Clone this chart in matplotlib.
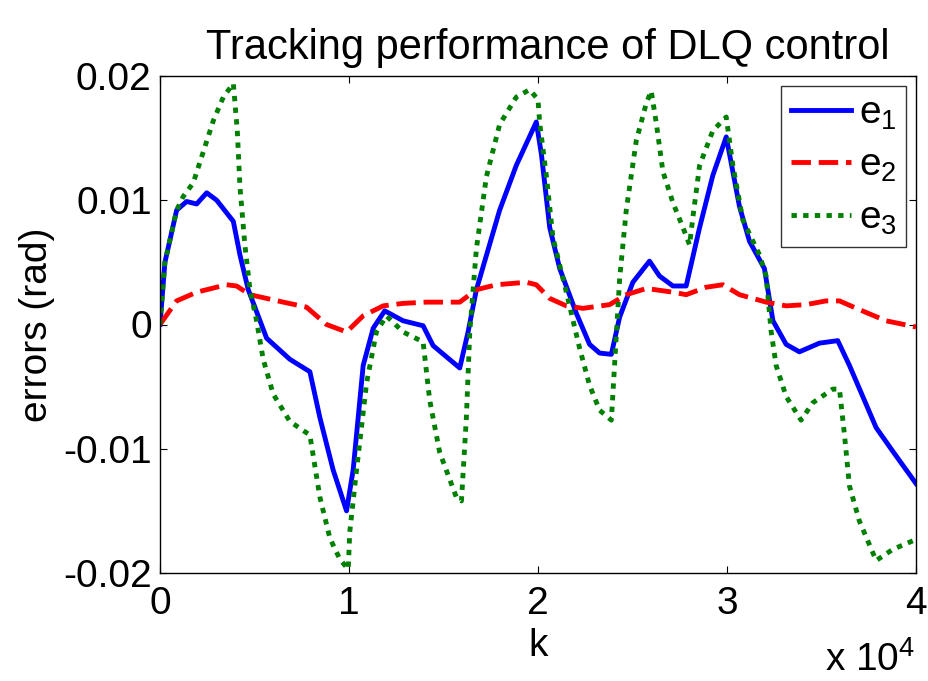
import matplotlib
matplotlib.use("Agg")
import matplotlib.pyplot as plt
import numpy as np

plt.rcParams['font.family'] = ['Liberation Sans', 'DejaVu Sans']
plt.rcParams['mathtext.fontset'] = 'custom'
plt.rcParams['mathtext.rm'] = 'Liberation Sans'
plt.rcParams['mathtext.it'] = 'Liberation Sans'

SCALE = 1e4  # x axis multiplier (x 10^4)

# e1 (blue, solid)
k_e1 = [0, 0.026, 0.088, 0.141, 0.194, 0.247, 0.300, 0.388, 0.423, 0.467, 0.564, 0.687,
        0.793, 0.846, 0.916, 0.987, 1.022, 1.075, 1.128, 1.189, 1.286, 1.392, 1.445, 1.586,
        1.630, 1.674, 1.797, 1.885, 1.991, 2.018, 2.062, 2.115, 2.203, 2.273, 2.326, 2.388,
        2.432, 2.502, 2.590, 2.643, 2.714, 2.784, 2.855, 2.925, 2.996, 3.066, 3.119, 3.198,
        3.243, 3.313, 3.383, 3.489, 3.586, 3.648, 3.789, 3.877, 4.0]
e1 = [0, 0.0050, 0.0092, 0.0099, 0.0097, 0.0106, 0.0100, 0.0083, 0.0056, 0.0028, -0.0011, -0.0028,
      -0.0038, -0.0075, -0.0117, -0.0150, -0.0117, -0.0033, -0.0003, 0.0011, 0.0003, -0.0001, -0.0017, -0.0035,
      -0.0006, 0.0028, 0.0092, 0.0128, 0.0163, 0.0137, 0.0078, 0.0045, 0.0009, -0.0016, -0.0023, -0.0024,
      0.0006, 0.0034, 0.0051, 0.0039, 0.0031, 0.0031, 0.0078, 0.0120, 0.0151, 0.0095, 0.0067, 0.0045,
      0.0003, -0.0016, -0.0022, -0.0015, -0.0013, -0.0033, -0.0083, -0.0102, -0.0128]

# e2 (red, dashed)
k_e2 = [0, 0.088, 0.194, 0.352, 0.405, 0.476, 0.652, 0.775, 0.881, 0.987, 1.075, 1.181, 1.286,
        1.410, 1.586, 1.674, 1.780, 1.938, 1.991, 2.062, 2.150, 2.238, 2.379, 2.467, 2.573, 2.714,
        2.784, 2.890, 2.978, 3.066, 3.207, 3.313, 3.419, 3.524, 3.595, 3.700, 3.841, 4.0]
e2 = [0.0, 0.0019, 0.0026, 0.0032, 0.0031, 0.0024, 0.0018, 0.0014, 0.0, -0.0006, 0.0007, 0.0015, 0.0017,
      0.0018, 0.0018, 0.0028, 0.0032, 0.0034, 0.0032, 0.0021, 0.0015, 0.0013, 0.0016, 0.0024, 0.0029, 0.0026,
      0.0024, 0.0030, 0.0032, 0.0024, 0.0018, 0.0015, 0.0016, 0.0019, 0.0019, 0.0012, 0.0003, -0.0002]

# e3 (green, dotted)
k_e3 = [0, 0.026, 0.088, 0.123, 0.176, 0.229, 0.282, 0.335, 0.388, 0.409, 0.423, 0.449, 0.476,
        0.511, 0.546, 0.599, 0.687, 0.793, 0.811, 0.846, 0.899, 0.952, 0.996, 1.004, 1.040, 1.093,
        1.145, 1.198, 1.286, 1.392, 1.427, 1.480, 1.568, 1.595, 1.621, 1.639, 1.674, 1.727, 1.797,
        1.885, 1.956, 2.000, 2.009, 2.044, 2.079, 2.150, 2.220, 2.273, 2.326, 2.388, 2.405, 2.432,
        2.467, 2.520, 2.573, 2.599, 2.626, 2.661, 2.714, 2.767, 2.802, 2.820, 2.855, 2.925, 2.996,
        3.031, 3.084, 3.172, 3.207, 3.233, 3.260, 3.313, 3.392, 3.454, 3.559, 3.595, 3.621, 3.648,
        3.700, 3.753, 3.789, 3.877, 4.0]
e3 = [0, 0.0050, 0.0092, 0.0103, 0.0114, 0.0139, 0.0164, 0.0183, 0.0194, 0.0156, 0.0111, 0.0064, 0.0028,
      0.0003, -0.0028, -0.0056, -0.0078, -0.0089, -0.0106, -0.0139, -0.0172, -0.0189, -0.0197, -0.0167, -0.0117, -0.0047,
      -0.0006, 0.0007, -0.0006, -0.0014, -0.0061, -0.0103, -0.0139, -0.0142, -0.0075, -0.0006, 0.0061, 0.0119, 0.0161,
      0.0183, 0.0189, 0.0181, 0.0162, 0.0120, 0.0070, 0.0026, -0.0019, -0.0049, -0.0069, -0.0077, -0.0033, 0.0037,
      0.0092, 0.0148, 0.0178, 0.0188, 0.0162, 0.0123, 0.0098, 0.0078, 0.0064, 0.0087, 0.0128, 0.0156, 0.0167,
      0.0128, 0.0084, 0.0056, 0.0039, -0.0005, -0.0033, -0.0058, -0.0077, -0.0063, -0.0052, -0.0052, -0.0088, -0.0130,
      -0.0158, -0.0177, -0.0190, -0.0181, -0.0173]

x_ticks = [0, 1, 2, 3, 4]
y_ticks = [-0.02, -0.01, 0, 0.01, 0.02]
y_tick_labels = ['-0.02', '-0.01', '0', '0.01', '0.02']
labels = ['e$_1$', 'e$_2$', 'e$_3$']

FS = 28

fig = plt.figure(figsize=(9.29, 6.81), dpi=100)
ax = fig.add_axes([160/929, 1 - 573/681, (916-160)/929, (573-76)/681])

lw = 3.5
common = dict(lw=lw, solid_joinstyle='round', dash_joinstyle='round')
ax.plot(np.array(k_e1)*SCALE, e1, color=(0, 0, 1), label=labels[0], **common)
ax.plot(np.array(k_e2)*SCALE, e2, color=(1, 0, 0), dashes=(4, 1.6), label=labels[1], **common)
ax.plot(np.array(k_e3)*SCALE, e3, color=(0, 0.5, 0), dashes=(1.1, 1.3), label=labels[2], **common)

ax.set_xlim(0, 4*SCALE)
ax.set_ylim(-0.02, 0.02)
ax.set_xticks(np.array(x_ticks)*SCALE)
ax.set_xticklabels([str(t) for t in x_ticks])
ax.set_yticks(y_ticks)
ax.set_yticklabels(y_tick_labels)
ax.tick_params(direction='in', length=5, width=0.8, top=True, right=True, labelsize=FS)
ax.tick_params(axis='x', pad=9)
ax.tick_params(axis='y', pad=6)
for s in ax.spines.values():
    s.set_linewidth(1.0)
    s.set_color('black')

ax.set_title('Tracking performance of DLQ control', fontsize=30, pad=12, x=0.513)
ax.set_xlabel('k', fontsize=FS, labelpad=5)
ax.set_ylabel('errors (rad)', fontsize=FS, labelpad=6)

fig.text(915/929, 1 - 660/681, r'x 10$^{4}$', fontsize=FS, ha='right', va='center')

leg = ax.legend(loc='upper right', fontsize=FS, frameon=True, fancybox=False,
                edgecolor='black', handlelength=1.55, handletextpad=0.2,
                borderpad=0.25, labelspacing=0.42, borderaxespad=0.25)
leg.get_frame().set_linewidth(1.0)

fig.savefig('out.png', dpi=100)
